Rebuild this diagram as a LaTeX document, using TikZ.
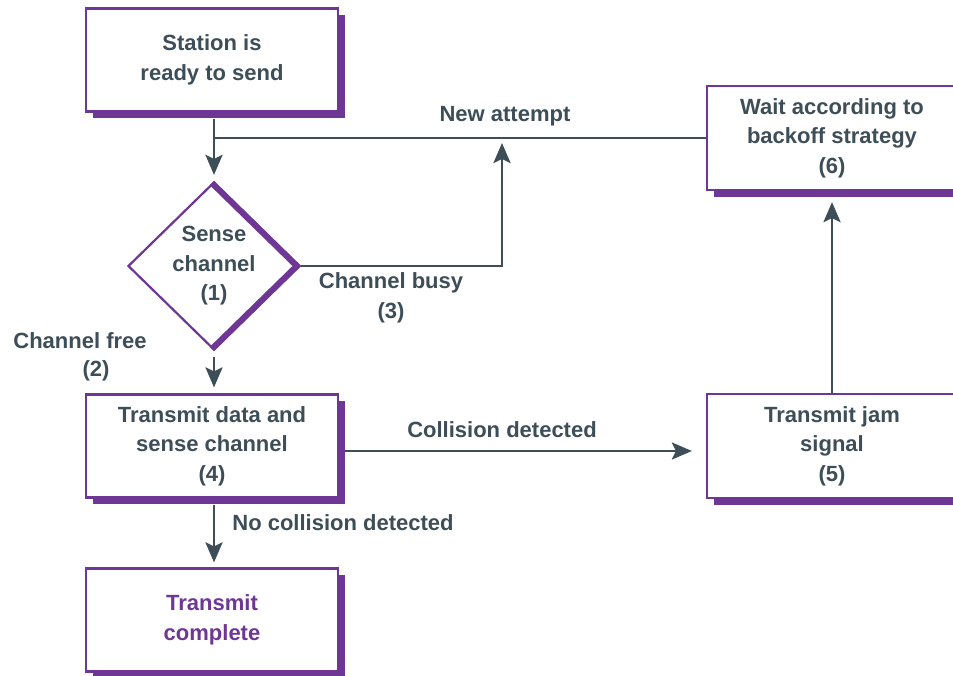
\documentclass[tikz,border=0pt]{standalone}
\usepackage{fontspec}
\setmainfont{Liberation Sans}
\usetikzlibrary{arrows.meta,shapes.geometric,shadows}
\definecolor{pur}{RGB}{110,55,150}
\definecolor{ink}{RGB}{62,78,88}
\begin{document}
\begin{tikzpicture}[x=1pt,y=-1pt,
  txt/.style={text=ink, font=\bfseries\fontsize{22}{29.5}\selectfont, align=center},
  box/.style={txt, draw=pur, line width=2.2pt, fill=white, inner sep=0pt,
    minimum width=252pt, minimum height=103pt,
    drop shadow={fill=pur, opacity=1, shadow xshift=6.5pt, shadow yshift=-6.5pt}},
  lbl/.style={txt, inner sep=0pt},
  arr/.style={draw=ink, line width=2.8pt, -{Stealth[length=20pt,width=17pt,inset=4pt]}},
  ln/.style={draw=ink, line width=2.8pt}
]
\useasboundingbox (0,0) rectangle (953,675);
\clip (0,0) rectangle (953,675);
\fill[white] (0,0) rectangle (953,675);

\node[box] (st) at (212,60) {Station is\\ready to send};
\node[box, minimum width=250pt, minimum height=104pt] (wt) at (832,138) {Wait according to\\backoff strategy\\(6)};
\node[box] (td) at (212,446) {Transmit data and\\sense channel\\(4)};
\node[box, minimum width=250pt, minimum height=104pt] (jm) at (832,446) {Transmit jam\\signal\\(5)};
\node[box, text=pur] (tc) at (212,620) {Transmit\\complete};

\node[txt, diamond, draw=pur, line width=2.2pt, fill=white, inner sep=0pt,
  minimum width=172pt, minimum height=168pt] (dia) at (214,266) {Sense\\channel\\(1)};
\begin{scope}
  \clip (dia.north) -- (dia.east) -- (dia.south) -- (dia.west) -- cycle;
  \draw[pur, line width=12pt, line join=miter] (dia.north) -- (dia.east) -- (dia.south);
\end{scope}

\coordinate (na) at (502,137);

\draw[arr, shorten <=6pt, shorten >=6pt] (dia.north |- st.south) -- (dia.north);
\draw[ln] (wt.west) -- (dia.north |- wt.west);
\draw[arr, shorten >=6pt] (dia.east) -| (na);
\draw[arr, shorten <=6pt, shorten >=6pt] (dia.south) -- (dia.south |- td.north);
\draw[arr, shorten <=6pt, shorten >=14pt] ([yshift=-5pt]td.east) -- ([yshift=-5pt]jm.west);
\draw[arr, shorten >=11pt] (jm.north) -- (wt.south);
\draw[arr, shorten <=6pt, shorten >=5pt] (dia.south |- td.south) -- (dia.south |- tc.north);

\node[lbl] (l1) at (505,116) {New attempt};
\node[lbl] (l3) at (391,298) {Channel busy\\(3)};
\node[lbl] (l2a) at (80,341) {Channel free};
\node[lbl] (l2b) at (96,371) {(2)};
\node[lbl] (l5) at (502,430) {Collision detected};
\node[lbl] (l7) at (343,523) {No collision detected};
\end{tikzpicture}
\end{document}
